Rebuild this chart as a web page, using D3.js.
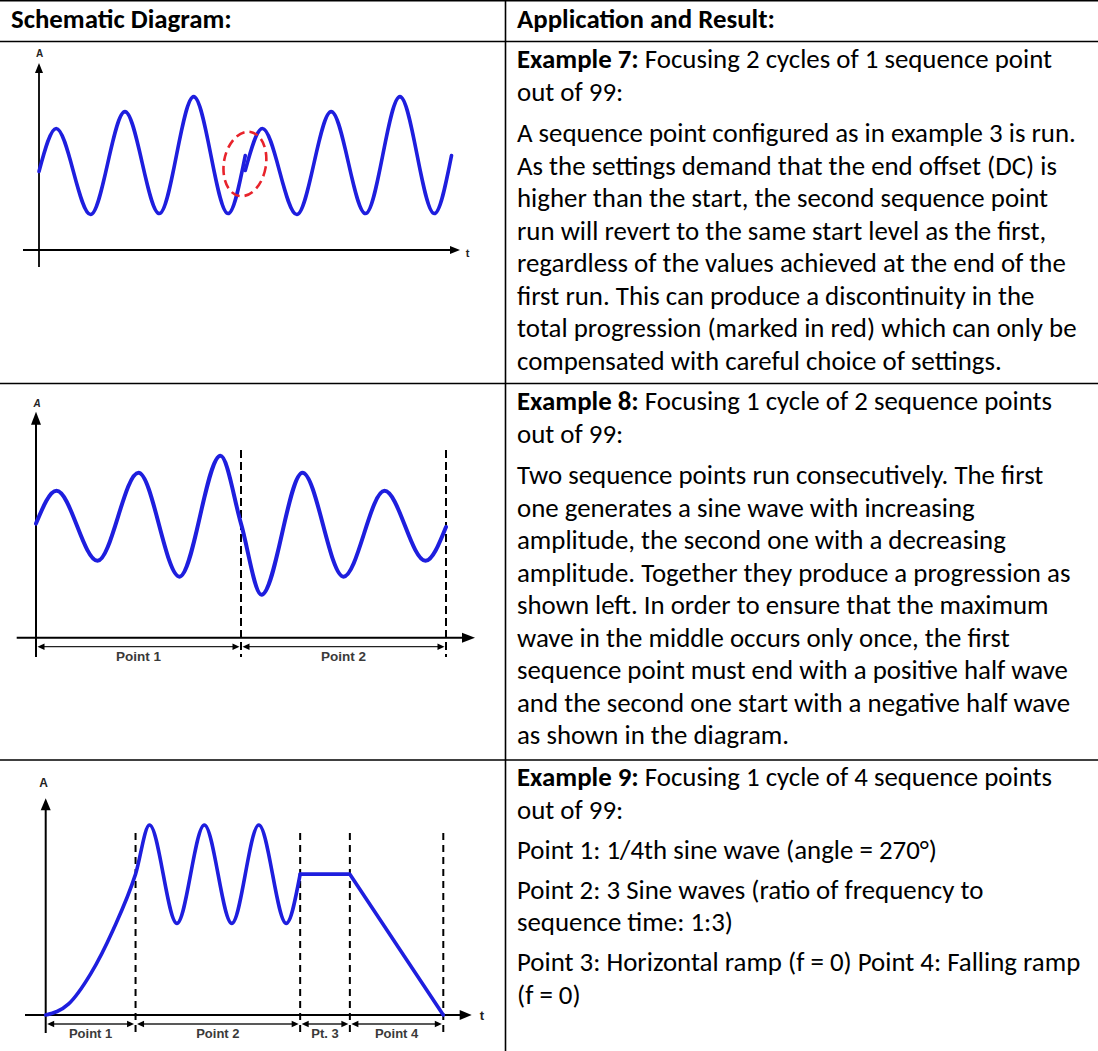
<!DOCTYPE html>
<html><head><meta charset="utf-8">
<script src="https://cdn.jsdelivr.net/npm/d3@7"></script>
<style>body{margin:0;background:#fff}svg{display:block}</style>
</head><body>
<script>
// ---------- DATA ----------
const headerLabels = ["Schematic Diagram:", "Application and Result:"];

const row1Title = ["Example 7:", " Focusing 2 cycles of 1 sequence point", "out of 99:"];
const row1Body = [[
  "A sequence point configured as in example 3 is run.",
  "As the settings demand that the end offset (DC) is",
  "higher than the start, the second sequence point",
  "run will revert to the same start level as the first,",
  "regardless of the values achieved at the end of the",
  "first run. This can produce a discontinuity in the",
  "total progression (marked in red) which can only be",
  "compensated with careful choice of settings."
]];

const row2Title = ["Example 8:", " Focusing 1 cycle of 2 sequence points", "out of 99:"];
const row2Body = [[
  "Two sequence points run consecutively. The first",
  "one generates a sine wave with increasing",
  "amplitude, the second one with a decreasing",
  "amplitude. Together they produce a progression as",
  "shown left. In order to ensure that the maximum",
  "wave in the middle occurs only once, the first",
  "sequence point must end with a positive half wave",
  "and the second one start with a negative half wave",
  "as shown in the diagram."
]];

const row3Title = ["Example 9:", " Focusing 1 cycle of 4 sequence points", "out of 99:"];
const row3Body = [
  ["Point 1: 1/4th sine wave (angle = 270°)"],
  ["Point 2: 3 Sine waves (ratio of frequency to", "sequence time: 1:3)"],
  ["Point 3: Horizontal ramp (f = 0) Point 4: Falling ramp", "(f = 0)"]
];

// Diagram 1 (t in cycles, A in arbitrary units 0..100): extrema
const d1Run1 = [[0,42],[0.25,65],[0.75,19],[1.25,74],[1.75,19.5],[2.25,82],[2.75,19.5],[3,50.5]];
const d1Run2 = [[3,42.5],[3.25,65],[3.75,19],[4.25,74],[4.75,19.5],[5.25,82],[5.75,19.5],[6,50.5]];
const d1Marker = [2.995, 46];

// Diagram 2
const d2Wave = [[0,50.5],[0.25,65],[0.75,34],[1.25,73],[1.75,27],[2.25,80.5],[2.5,50.5],
                [2.75,19],[3.25,73],[3.75,27],[4.25,65],[4.75,34],[5,49]];
const d2Bounds = [0, 2.5, 5];
const d2Labels = ["Point 1", "Point 2"];

// Diagram 3 (t 0..100)
const d3Sine = [[0,0],[5.7,5],[11.3,19],[17,39.5],[22.6,65],
                [26.1,87.7],[33,42.3],[39.9,87.7],[46.8,42.3],[53.6,87.7],[60.5,42.3],[64,65]];
const d3Ramps = [[64,65],[76.5,65],[100,0]];
const d3Bounds = [0, 22.6, 64, 76.5, 100];
const d3Labels = ["Point 1", "Point 2", "Pt. 3", "Point 4"];

// ---------- STYLE ----------
const W = 1098, H = 1051;
const FONT = "Carlito, Calibri, Lato, 'Open Sans', sans-serif";
const BLUE = "#1e1ede";
const RED = "#e8232b";

const ctx = document.createElement("canvas").getContext("2d");
ctx.font = "100px " + FONT;
const fs = 100 * 559 / ctx.measureText(row1Body[0][0]).width;

const svg = d3.select("body").append("svg").attr("width", W).attr("height", H);

// table grid
const grid = svg.append("g").attr("stroke", "#000").attr("stroke-width", 1.6);
grid.append("line").attr("x1",0).attr("x2",W).attr("y1",0.8).attr("y2",0.8);
[41.5, 383.5, 760].forEach(yy => grid.append("line").attr("x1",0).attr("x2",W).attr("y1",yy).attr("y2",yy));
grid.append("line").attr("x1",505.5).attr("x2",505.5).attr("y1",0).attr("y2",H);

// header
svg.append("text").attr("x",11).attr("y",28).attr("font-family",FONT).attr("font-size",fs)
  .attr("font-weight","bold").text(headerLabels[0]);
svg.append("text").attr("x",517).attr("y",28).attr("font-family",FONT).attr("font-size",fs)
  .attr("font-weight","bold").text(headerLabels[1]);

function drawText(top, title, body, step, gap) {
  const g = svg.append("g").attr("font-family", FONT).attr("font-size", fs).attr("fill", "#000");
  let yy = top + 26;
  const t = g.append("text").attr("x", 517).attr("y", yy);
  t.append("tspan").attr("font-weight", "bold").text(title[0]);
  t.append("tspan").text(title[1]);
  yy += step + 1;
  g.append("text").attr("x", 517).attr("y", yy).text(title[2]);
  body.forEach(par => {
    yy += gap;
    par.forEach((ln, i) => {
      if (i > 0) yy += step;
      g.append("text").attr("x", 517).attr("y", yy).text(ln);
    });
  });
}
drawText(41.5, row1Title, row1Body, 32.5, 41);
drawText(383.5, row2Title, row2Body, 32.5, 41);
drawText(760, row3Title, row3Body, 32.2, 40);

// helpers
function arrow(g, x, y, dir, len, hw) {
  let p;
  if (dir === "up") p = [[x,y],[x-hw,y+len],[x+hw,y+len]];
  else if (dir === "right") p = [[x,y],[x-len,y-hw],[x-len,y+hw]];
  else p = [[x,y],[x+len,y-hw],[x+len,y+hw]];
  g.append("path").attr("d", "M" + p.map(q => q.join(",")).join("L") + "Z").attr("fill", "#000");
}
function axes(g, ox, oy, xl, xr, yt, yb, len, hw, sw) {
  g.append("line").attr("x1",ox).attr("x2",ox).attr("y1",yb).attr("y2",yt+len-1)
    .attr("stroke","#000").attr("stroke-width",sw);
  g.append("line").attr("x1",xl).attr("x2",xr-len+1).attr("y1",oy).attr("y2",oy)
    .attr("stroke","#000").attr("stroke-width",sw);
  arrow(g, ox, yt, "up", len, hw);
  arrow(g, xr, oy, "right", len, hw);
}
function dims(g, xs, yDim, labels, yLab, lfs) {
  for (let i = 0; i < xs.length - 1; i++) {
    const a = xs[i] + 1.5, b = xs[i+1] - 1.5;
    g.append("line").attr("x1",a+4).attr("x2",b-4).attr("y1",yDim).attr("y2",yDim)
      .attr("stroke","#222").attr("stroke-width",1.3);
    arrow(g, a, yDim, "left", 7, 3.2);
    arrow(g, b, yDim, "right", 7, 3.2);
    g.append("text").attr("x",(xs[i]+xs[i+1])/2).attr("y",yLab).attr("text-anchor","middle")
      .attr("font-family","'Liberation Sans', Arial, sans-serif").attr("font-weight","bold")
      .attr("font-size",lfs).attr("fill","#3a3a3a").text(labels[i]);
  }
}
const lab = (g, x, y, s, txt, it) => g.append("text").attr("x",x).attr("y",y).attr("text-anchor","middle")
  .attr("font-family","'Liberation Sans', Arial, sans-serif").attr("font-weight","bold")
  .attr("font-style", it ? "italic" : "normal").attr("font-size",s).attr("fill","#222").text(txt);

// ---------- Diagram 1 ----------
{
  const g = svg.append("g");
  const x = d3.scaleLinear([0,6],[39,451.5]);
  const y = d3.scaleLinear([0,100],[250,63]);
  axes(g, x(0), y(0), 23, 460, y(100), 267, 10, 4, 1.8);
  lab(g, 39.5, 57, 10, "A");
  lab(g, 467.5, 257, 11, "t");
  const line = d3.line().x(d=>x(d[0])).y(d=>y(d[1])).curve(d3.curveMonotoneX);
  [d1Run1, d1Run2].forEach(r => g.append("path").attr("d", line(r)).attr("fill","none")
    .attr("stroke",BLUE).attr("stroke-width",3.6).attr("stroke-linejoin","round").attr("stroke-linecap","round"));
  g.append("ellipse").attr("cx",0).attr("cy",0).attr("rx",21).attr("ry",32.5)
    .attr("transform",`translate(${x(d1Marker[0])},${y(d1Marker[1])}) rotate(10)`)
    .attr("fill","none").attr("stroke",RED).attr("stroke-width",2.6).attr("stroke-dasharray","9,5");
}

// ---------- Diagram 2 ----------
{
  const g = svg.append("g");
  const x = d3.scaleLinear([0,5],[36,446]);
  const y = d3.scaleLinear([0,100],[637.7,411.7]);
  axes(g, x(0), y(0), 16.7, 475, y(100), 657, 13, 5, 2);
  lab(g, 37, 407, 10, "A", true);
  d2Bounds.slice(1).forEach(b => g.append("line").attr("x1",x(b)).attr("x2",x(b)).attr("y1",450).attr("y2",657)
    .attr("stroke","#000").attr("stroke-width",2).attr("stroke-dasharray","8,4"));
  dims(g, d2Bounds.map(x), 646.7, d2Labels, 661, 13.5);
  const line = d3.line().x(d=>x(d[0])).y(d=>y(d[1])).curve(d3.curveMonotoneX);
  g.append("path").attr("d", line(d2Wave)).attr("fill","none").attr("stroke",BLUE)
    .attr("stroke-width",4).attr("stroke-linejoin","round").attr("stroke-linecap","round");
}

// ---------- Diagram 3 ----------
{
  const g = svg.append("g");
  const x = d3.scaleLinear([0,100],[45.7,443.3]);
  const y = d3.scaleLinear([0,100],[1015,798.3]);
  axes(g, x(0), y(0), 25, 471.7, y(100), 1033, 12, 5, 2);
  lab(g, 43.5, 787, 12, "A");
  lab(g, 482, 1020, 13, "t");
  d3Bounds.slice(1).forEach(b => g.append("line").attr("x1",x(b)).attr("x2",x(b)).attr("y1",833).attr("y2",1033)
    .attr("stroke","#000").attr("stroke-width",2).attr("stroke-dasharray","7,5"));
  dims(g, d3Bounds.map(x), 1024, d3Labels, 1038, 13);
  const curve = d3.line().x(d=>x(d[0])).y(d=>y(d[1])).curve(d3.curveMonotoneX);
  const lin = d3.line().x(d=>x(d[0])).y(d=>y(d[1]));
  g.append("path").attr("d", curve(d3Sine)).attr("fill","none").attr("stroke",BLUE)
    .attr("stroke-width",3.6).attr("stroke-linejoin","round").attr("stroke-linecap","round");
  g.append("path").attr("d", lin(d3Ramps)).attr("fill","none").attr("stroke",BLUE)
    .attr("stroke-width",3.6).attr("stroke-linejoin","round").attr("stroke-linecap","round");
}
</script>
</body></html>
